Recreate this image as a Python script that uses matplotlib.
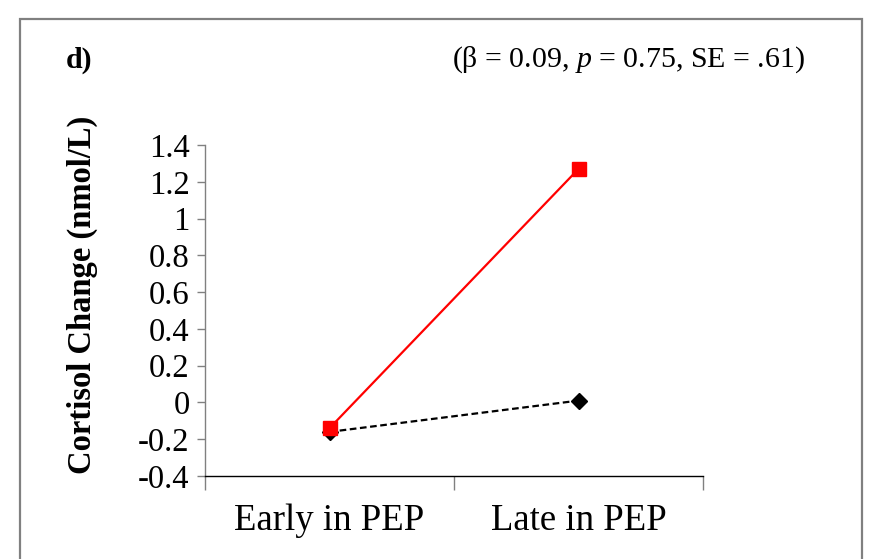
import matplotlib
matplotlib.use("Agg")
import matplotlib.pyplot as plt
from matplotlib.patches import Rectangle
from matplotlib.ticker import FuncFormatter

plt.rcParams['font.family'] = ['Liberation Serif', 'DejaVu Serif']
plt.rcParams['axes.unicode_minus'] = False
plt.rcParams['mathtext.fontset'] = 'custom'
plt.rcParams['mathtext.rm'] = 'Liberation Serif'
plt.rcParams['mathtext.it'] = 'Liberation Serif:italic'

# data
categories = ["Early in PEP", "Late in PEP"]
high_group = [-0.14, 1.27]   # red, solid, squares
low_group = [-0.16, 0.01]    # black, dashed, diamonds
yticks = [-0.4, -0.2, 0, 0.2, 0.4, 0.6, 0.8, 1, 1.2, 1.4]

fig = plt.figure(figsize=(8.73, 5.59), dpi=100)
ax = fig.add_axes([205 / 873, 1 - 476 / 559, 498 / 873, 331 / 559])

xs = list(range(len(categories)))
ax.plot(xs, low_group, color="black", linestyle=(0, (3, 1.6)), linewidth=1.6,
        marker="D", markersize=8, zorder=2)
ax.plot(xs, high_group, color="#ff0000", linestyle="-", linewidth=1.6,
        marker="s", markersize=10.5, zorder=3)

ax.set_xlim(-0.5, 1.5)
ax.set_ylim(-0.4, 1.4)
ax.set_yticks(yticks)
ax.yaxis.set_major_formatter(FuncFormatter(lambda v, p: "%g" % round(v, 2)))
ax.tick_params(axis="y", direction="out", length=6, width=1, color="#808080",
               labelsize=23.5, pad=5)

# category labels between boundary ticks
ax.set_xticks([-0.5, 0.5, 1.5])
ax.set_xticklabels([])
ax.set_xticks(xs, minor=True)
ax.set_xticklabels(categories, minor=True)
ax.tick_params(axis="x", which="major", direction="out", length=10, width=1,
               color="#808080")
ax.tick_params(axis="x", which="minor", length=0, labelsize=26.5, pad=20)

for s in ["top", "right"]:
    ax.spines[s].set_visible(False)
ax.spines["left"].set_color("#808080")
ax.spines["bottom"].set_color("black")
ax.spines["left"].set_linewidth(1)
ax.spines["bottom"].set_linewidth(1)

ax.set_ylabel("Cortisol Change (nmol/L)", fontsize=23.5, fontweight="bold")
ax.yaxis.set_label_coords((82 - 205) / 498, (476 - 295) / 331)
ax.yaxis.label.set_va("center")

fig.text(66 / 873, 1 - 60 / 559, "d)", fontsize=21.5, fontweight="bold",
         ha="left", va="center")
fig.text(805 / 873, 1 - 60 / 559,
         r"(β = 0.09, $\it{p}$ = 0.75, SE = .61)", fontsize=21.5,
         ha="right", va="center")

# outer frame
fig.patches.append(Rectangle((20 / 873, -0.05), 842 / 873, 1.05 - 19 / 559,
                             transform=fig.transFigure, fill=False,
                             edgecolor="#808080", linewidth=1.6))

fig.savefig("out.png", dpi=100)
